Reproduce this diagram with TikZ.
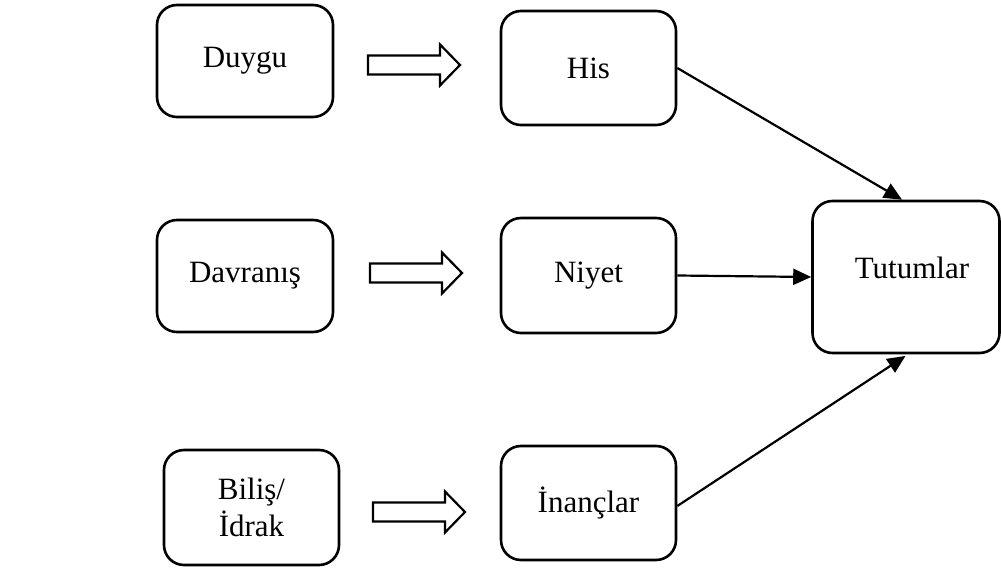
\documentclass[tikz,border=0pt]{standalone}
\usepackage{fontspec}
\setmainfont{Liberation Serif}
\usetikzlibrary{arrows.meta}

\tikzset{
  box/.style={draw=black, line width=2.6pt, rounded corners=20pt, fill=white,
              inner sep=0pt, align=center, font=\fontsize{31}{37}\selectfont},
  link/.style={draw=black, line width=2.2pt,
               -{Triangle[length=18pt,width=16pt]}},
  blockarrow/.pic={
    \draw[line width=2.2pt, fill=white]
      (-46,-9.5) -- (26,-9.5) -- (26,-20.5) -- (46,0) -- (26,20.5)
      -- (26,9.5) -- (-46,9.5) -- cycle;
  }
}

\begin{document}
\begin{tikzpicture}[x=1pt, y=-1pt]
  \useasboundingbox (0,0) rectangle (1001,569);
  \fill[white] (0,0) rectangle (1001,569);

  % left column
  \node[box, minimum width=176pt, minimum height=112pt] (duygu) at (245,61) {Duygu};
  \node[box, minimum width=176pt, minimum height=112pt] (davr) at (245,276) {Davranış};
  \node[box, minimum width=175pt, minimum height=115pt] (bilis) at (251.5,507.5) {Biliş/\\İdrak};

  % middle column
  \node[box, minimum width=175pt, minimum height=114pt] (his) at (588.5,68) {His};
  \node[box, minimum width=175pt, minimum height=115pt] (niyet) at (588.5,275.5) {Niyet};
  \node[box, minimum width=175pt, minimum height=114pt] (inanc) at (588.5,503) {İnançlar};

  % result
  \node[box, minimum width=187pt, minimum height=152pt] (tut) at (906,277) {};
  \node[font=\fontsize{31}{37}\selectfont, inner sep=0pt] (tuttext) at (912,268) {Tutumlar};

  % hollow block arrows between the columns
  \pic at (414,65) {blockarrow};
  \pic at (416,273) {blockarrow};
  \pic at (419,512) {blockarrow};

  % connectors into the result box
  \draw[link] (his.east) -- ([xshift=-4pt]tut.north);
  \draw[link] (niyet.east) -- (tut.west);
  \draw[link, shorten >=3pt] ([yshift=-3pt]inanc.east) -- ([xshift=2pt]tut.south);
\end{tikzpicture}
\end{document}
